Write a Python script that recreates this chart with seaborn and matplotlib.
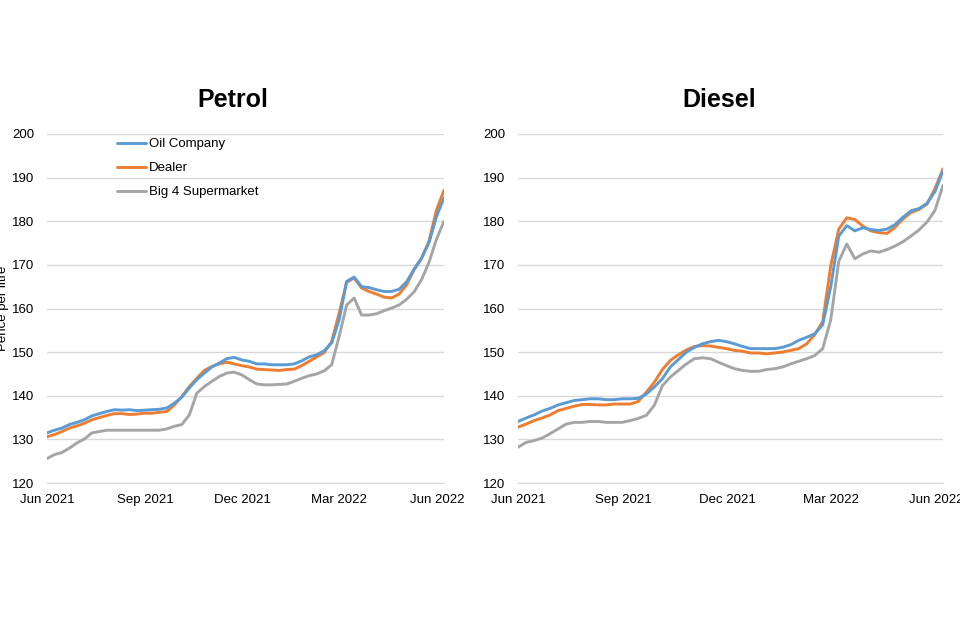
import matplotlib
matplotlib.use("Agg")
import matplotlib.pyplot as plt
import matplotlib.dates as mdates
import seaborn as sns
import pandas as pd
import numpy as np

# weekly prices, pence per litre
dates = pd.date_range("2021-06-01", periods=54, freq="7D")

petrol_oil = [131.5, 132.1, 132.6, 133.4, 133.9, 134.5, 135.4, 135.9, 136.4, 136.8,
              136.7, 136.8, 136.6, 136.7, 136.8, 136.9, 137.2, 138.3, 139.7, 141.8,
              143.7, 145.2, 146.6, 147.5, 148.5, 148.8, 148.2, 147.9, 147.3, 147.3,
              147.1, 147.1, 147.1, 147.3, 148.0, 148.9, 149.4, 150.3, 152.1, 157.4,
              166.2, 167.2, 165.0, 164.8, 164.3, 163.9, 163.9, 164.4, 166.1, 169.0,
              171.6, 175.1, 181.1, 185.4]
petrol_dealer = [130.6, 131.1, 131.8, 132.6, 133.1, 133.7, 134.5, 135.0, 135.5, 135.9,
                 135.9, 135.7, 135.8, 136.0, 136.0, 136.2, 136.4, 137.9, 139.8, 142.1,
                 144.0, 145.8, 146.7, 147.3, 147.7, 147.3, 146.9, 146.6, 146.1, 146.0,
                 145.9, 145.8, 146.0, 146.1, 146.9, 147.9, 148.9, 149.9, 152.4, 158.9,
                 166.0, 167.0, 164.7, 163.9, 163.3, 162.6, 162.4, 163.3, 165.4, 168.9,
                 171.4, 175.5, 182.6, 187.1]
petrol_big4 = [125.6, 126.5, 127.0, 128.0, 129.2, 130.1, 131.5, 131.8, 132.1, 132.1,
               132.1, 132.1, 132.1, 132.1, 132.1, 132.1, 132.4, 133.0, 133.4, 135.6,
               140.6, 142.1, 143.3, 144.4, 145.2, 145.4, 144.8, 143.7, 142.7, 142.5,
               142.5, 142.6, 142.7, 143.3, 144.0, 144.6, 145.0, 145.7, 147.1, 153.6,
               160.8, 162.4, 158.5, 158.5, 158.8, 159.5, 160.1, 160.8, 162.1, 163.8,
               166.6, 170.6, 175.9, 180.0]

diesel_oil = [134.1, 134.9, 135.6, 136.5, 137.1, 137.9, 138.4, 138.9, 139.1, 139.3,
              139.3, 139.1, 139.1, 139.3, 139.3, 139.4, 140.4, 142.0, 143.9, 146.6,
              148.3, 150.0, 151.1, 151.9, 152.4, 152.7, 152.4, 151.9, 151.3, 150.8,
              150.8, 150.8, 150.8, 151.1, 151.7, 152.7, 153.4, 154.2, 156.3, 165.0,
              176.6, 179.0, 177.8, 178.5, 178.1, 177.9, 178.2, 179.2, 180.9, 182.4,
              182.9, 184.1, 186.8, 191.6]
diesel_dealer = [132.8, 133.5, 134.3, 134.9, 135.6, 136.6, 137.1, 137.6, 138.0, 138.0,
                 137.9, 137.9, 138.1, 138.1, 138.1, 138.7, 140.8, 143.1, 146.0, 148.1,
                 149.4, 150.5, 151.3, 151.5, 151.4, 151.1, 150.8, 150.4, 150.2, 149.8,
                 149.8, 149.6, 149.8, 150.0, 150.4, 150.8, 151.9, 154.0, 157.0, 169.8,
                 178.2, 180.8, 180.4, 178.9, 177.8, 177.4, 177.2, 178.6, 180.5, 182.0,
                 182.7, 183.9, 187.5, 192.0]
diesel_big4 = [128.2, 129.3, 129.7, 130.3, 131.3, 132.4, 133.5, 133.9, 133.9, 134.1,
               134.1, 133.9, 133.9, 133.9, 134.3, 134.8, 135.5, 137.8, 142.3, 144.3,
               145.8, 147.3, 148.5, 148.7, 148.5, 147.7, 146.9, 146.2, 145.8, 145.6,
               145.6, 146.0, 146.2, 146.6, 147.3, 147.9, 148.5, 149.2, 150.8, 157.4,
               170.8, 174.8, 171.4, 172.5, 173.2, 172.9, 173.5, 174.3, 175.3, 176.6,
               178.0, 179.8, 182.5, 188.2]

series_names = ["Oil Company", "Dealer", "Big 4 Supermarket"]
colors = ["#5B9BD5", "#ED7D31", "#A5A5A5"]
y_ticks = [120, 130, 140, 150, 160, 170, 180, 190, 200]


def make_frame(oil, dealer, big4):
    df = pd.DataFrame({"date": dates, "Oil Company": oil, "Dealer": dealer,
                       "Big 4 Supermarket": big4})
    return df.melt(id_vars="date", var_name="retailer", value_name="price")


sns.set_style("white")
plt.rcParams["font.family"] = ["Liberation Sans", "DejaVu Sans"]
plt.rcParams["text.color"] = "black"
plt.rcParams["xtick.labelcolor"] = "black"
plt.rcParams["ytick.labelcolor"] = "black"

fig = plt.figure(figsize=(9.6, 6.4), dpi=100)
ax1 = fig.add_axes([47 / 960, 1 - 483 / 640, 397 / 960, 349 / 640])
ax2 = fig.add_axes([518 / 960, 1 - 483 / 640, 425 / 960, 349 / 640])

panels = [(ax1, make_frame(petrol_oil, petrol_dealer, petrol_big4)),
          (ax2, make_frame(diesel_oil, diesel_dealer, diesel_big4))]

for ax, df in panels:
    # draw grey first so company lines sit on top
    for name, col in zip(series_names[::-1], colors[::-1]):
        sub = df[df["retailer"] == name]
        sns.lineplot(data=sub, x="date", y="price", color=col, linewidth=2.1,
                     ax=ax, label=name)
    ax.set_xlim(dates[0], dates[-1])
    ax.set_ylim(120, 200)
    ax.set_yticks(y_ticks)
    ax.grid(axis="y", color="#D9D9D9", linewidth=1.0)
    ax.set_axisbelow(True)
    for s in ["top", "right", "left"]:
        ax.spines[s].set_visible(False)
    ax.spines["bottom"].set_color("#D9D9D9")
    ax.xaxis.set_major_locator(mdates.MonthLocator(bymonth=[3, 6, 9, 12]))
    ax.xaxis.set_major_formatter(mdates.DateFormatter("%b %Y"))
    ax.xaxis.set_minor_locator(mdates.MonthLocator())
    ax.tick_params(axis="x", which="both", direction="inout", length=4,
                   color="#BFBFBF", labelsize=9.5, pad=6)
    ax.tick_params(axis="y", length=0, labelsize=9.5, pad=9)
    ax.set_xlabel("")
    ax.set_ylabel("")
    ax.get_legend().remove()

handles, labels = ax1.get_legend_handles_labels()
handles, labels = handles[::-1], labels[::-1]
fig.legend(handles, labels, loc="upper left",
           bbox_to_anchor=(117 / 960, 1 - 138 / 640), frameon=False,
           fontsize=9.5, handlelength=2.2, handletextpad=0.25,
           labelspacing=0.9, borderpad=0, borderaxespad=0)

fig.text(233 / 960, 1 - 100 / 640, "Petrol", ha="center", va="center",
         fontsize=18, fontweight="bold")
fig.text(719 / 960, 1 - 100 / 640, "Diesel", ha="center", va="center",
         fontsize=18, fontweight="bold")
fig.text(3 / 960, 1 - 308 / 640, "Pence per litre", rotation=90,
         ha="center", va="center", fontsize=9.5)

fig.savefig("out.png", dpi=100)
plt.close(fig)
